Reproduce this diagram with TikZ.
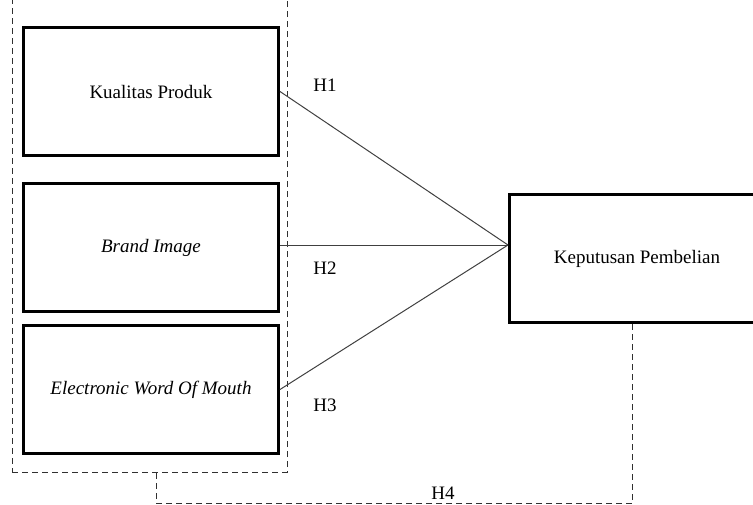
\documentclass[tikz,border=0pt]{standalone}
\usepackage{fontspec}
\setmainfont{Liberation Serif}
\usepackage{xcolor}
\usepackage{tikz}
\usetikzlibrary{positioning,calc}
\definecolor{lineGray}{HTML}{404040}
\definecolor{dashGray}{HTML}{303030}
\tikzset{
  varbox/.style={draw=black, line width=3pt, fill=white,
        minimum width=255pt, minimum height=128pt, align=center,
        font=\fontsize{19}{23}\selectfont, inner sep=0pt},
  link/.style={draw=lineGray, line width=1pt},
  dline/.style={draw=dashGray, line width=1pt, dash pattern=on 6pt off 4pt},
  hlab/.style={font=\fontsize{19}{23}\selectfont, inner sep=0pt}
}
\begin{document}
\begin{tikzpicture}[x=1pt, y=-1pt]
\useasboundingbox (0,0) rectangle (753,504);

% dashed frame round the independent variables
\node[dline, minimum width=275pt, minimum height=482pt, inner sep=0pt] (frame) at (149.5,231) {};

% independent variables
\node[varbox] (kp) at (151,91.5) {Kualitas Produk};
\node[varbox] (bi) at (151,247.5) {\textit{Brand Image}};
\node[varbox] (ewom) at (151,389.5) {\textit{Electronic Word Of Mouth}};

% dependent variable
\node[varbox] (kpb) at (637,258.5) {Keputusan Pembelian};
\coordinate (join) at (kpb.west |- 0,245);

% hypotheses
\draw[link] (kp.east) -- (join);
\draw[link] (bi.east |- join) -- (join);
\draw[link] (ewom.east) -- (join);

\node[hlab] (h1) at (325,85) {H1};
\node[hlab] (h2) at (325,268) {H2};
\node[hlab] (h3) at (325,405) {H3};

% simultaneous effect
\coordinate (h4r) at (632,503.5);
\coordinate (h4l) at (156,503.5);
\draw[dline] (h4r |- kpb.south) -- (h4r) -- (h4l) -- (h4l |- frame.south);
\node[hlab] (h4) at (443,493) {H4};
\end{tikzpicture}
\end{document}
